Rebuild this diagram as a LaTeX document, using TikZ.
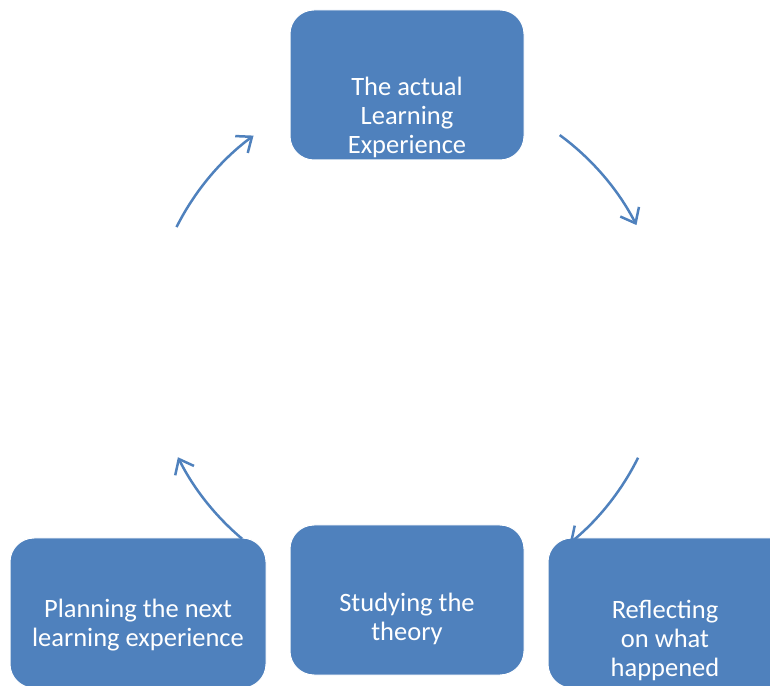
\documentclass[tikz,border=0pt]{standalone}
\usepackage{fontspec}
\setmainfont{Carlito}
\usetikzlibrary{arrows.meta,calc}
\definecolor{stageblue}{RGB}{79,129,189}

\begin{document}
\begin{tikzpicture}[x=1pt, y=1pt,
    stage/.style={fill=stageblue, draw=white, line width=1pt, rounded corners=24pt, minimum width=234pt, minimum height=150pt, inner sep=0pt},
    caption/.style={text=white, align=center, font=\fontsize{26.5}{29}\selectfont},
    cyclearrow/.style={-{Straight Barb[length=13pt, width=21pt]}, stageblue, line width=2.5pt}
]
    \useasboundingbox (0,0) rectangle (770,685);
    \clip (0,0) rectangle (770,685);
    \coordinate (hub) at (407,342);

    % The actual learning experience
    \node[stage] (actual) at (407,600) {};
    \node[caption] (actualtext) at (407,567.5) {The actual\\Learning\\Experience};

    % Reflecting
    \node[stage, minimum width=256pt] (reflect) at (676,72) {};
    \node[caption] (reflecttext) at (665,44.5) {Re{}flecting\\on what\\happened};

    % Studying the theory
    \node[stage] (theory) at (407,85) {};
    \node[caption] (theorytext) at (407,66.5) {Studying the\\theory};

    % Planning
    \node[stage, minimum width=256pt] (plan) at (138,72) {};
    \node[caption] (plantext) at (138,59.5) {Planning the next\\learning experience};

    % Arrows round the cycle
    \coordinate (a1) at ($(hub)+(53.7:258pt)$);
    \coordinate (a2) at ($(hub)+(-26.4:258pt)$);
    \coordinate (a3) at ($(hub)+(229.9:256pt)$);
    \coordinate (a4) at ($(hub)+(153.3:258pt)$);
    \draw[cyclearrow] (a1) arc[start angle=53.7, end angle=27.2, radius=258pt];
    \draw[cyclearrow] (a2) arc[start angle=-26.4, end angle=-50.9, radius=258pt];
    \draw[cyclearrow] (a3) arc[start angle=229.9, end angle=206.5, radius=256pt];
    \draw[cyclearrow] (a4) arc[start angle=153.3, end angle=126.5, radius=258pt];
\end{tikzpicture}
\end{document}
